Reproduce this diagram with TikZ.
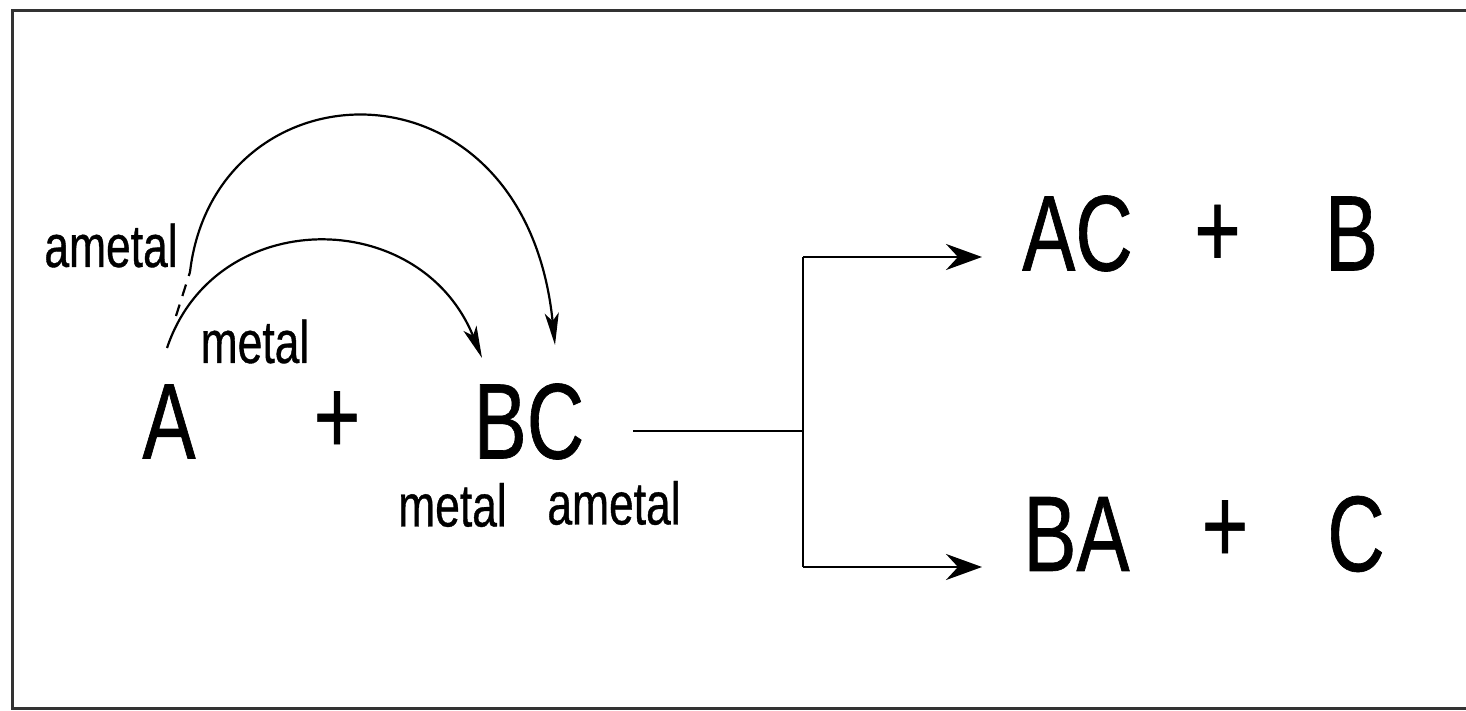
\documentclass[tikz,border=0pt]{standalone}
\usepackage{fontspec}
\newfontfamily\narrowsans[FakeStretch=0.74,FakeBold=0.6]{Liberation Sans}
\newcommand\BigTxt{\narrowsans\fontsize{107.5}{120}\selectfont}
\newcommand\SmallTxt{\narrowsans\fontsize{60}{70}\selectfont}
\usetikzlibrary{arrows.meta}
\begin{document}
\begin{tikzpicture}[x=1pt,y=-1pt,
  big/.style={font=\BigTxt,inner sep=0pt},
  lbl/.style={font=\SmallTxt,inner sep=0pt},
  frameline/.style={line width=3pt,draw=black!80},
  link/.style={line width=2.8pt},
  arcline/.style={line width=2.2pt},
  arctip/.style={arcline,-{Stealth[length=32pt,width=14pt,inset=8pt]}},
  bigtip/.style={link,-{Stealth[length=36pt,width=26pt,inset=12pt]}}]
\useasboundingbox (0,0) rectangle (1466,711);
\fill[white] (0,0) rectangle (1466,711);
\draw[frameline] (1470,11) -- (12,11) -- (12,708) -- (1470,708);

% left side
\node[lbl] (am1) at (111,245.5) {ametal};
\node[lbl] (me1) at (255,341.5) {metal};
\node[big] (A) at (169,421.5) {A};
\node[big] (p1) at (337,422.5) {+};
\node[big] (BC) at (529,421.5) {BC};
\node[lbl] (me2) at (452.5,505) {metal};
\node[lbl] (am2) at (614,503) {ametal};

% right side
\node[big] (AC) at (1077.5,233.5) {AC};
\node[big] (p2) at (1217.5,236) {+};
\node[big] (B) at (1351.5,233.5) {B};
\node[big] (BA) at (1076.5,534) {BA};
\node[big] (p3) at (1225,531.5) {+};
\node[big] (C) at (1356,534) {C};

% arcs
\coordinate (i0) at (167,348);
\coordinate (i1) at (482,358);
\draw[arctip] (i0) .. controls (215,205) and (420,205) .. (i1);
\coordinate (o0) at (176,316);
\coordinate (o1) at (190,272);
\coordinate (o2) at (555,345);
\draw[arcline,dash pattern=on 12pt off 9pt] (o0) -- (o1);
\draw[arctip] (o1) .. controls (215,60) and (525,48) .. (o2);

% reaction connectors
\coordinate (j0) at (633,431);
\coordinate (j1) at (803,431);
\coordinate (jt) at (803,257);
\coordinate (jb) at (803,567);
\coordinate (t1) at (982,257);
\coordinate (t2) at (982,567);
\draw[link] (j0) -- (j1);
\draw[link] (jt) -- (jb);
\draw[bigtip] (jt) -- (t1);
\draw[bigtip] (jb) -- (t2);
\end{tikzpicture}
\end{document}
